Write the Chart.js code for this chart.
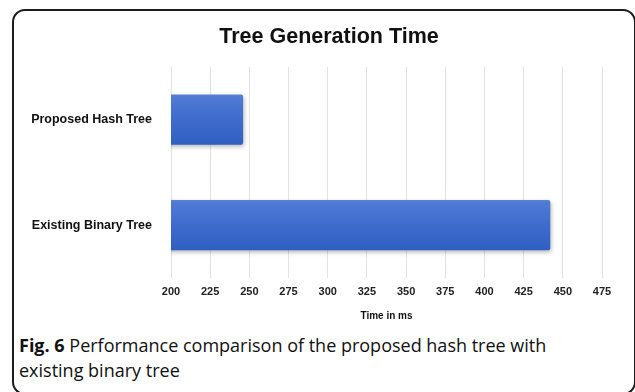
<!DOCTYPE html>
<html>
<head>
<meta charset="utf-8">
<script src="https://cdn.jsdelivr.net/npm/chart.js@4/dist/chart.umd.min.js"></script>
<style>
  html, body { margin: 0; padding: 0; background: #fff; }
  body { width: 635px; height: 392px; position: relative; overflow: hidden; }
  .frame {
    position: absolute; left: 12px; top: 9px; width: 620px; height: 382px;
    border: 2px solid #1c1c1c; border-radius: 13px; box-sizing: content-box;
  }
  .chart-box { position: absolute; left: 0; top: 0; width: 635px; height: 330px; }
  .caption {
    position: absolute; left: 19px; top: 333px; width: 572px;
    font-family: "Open Sans", sans-serif; font-size: 18px; line-height: 25px; color: #111;
  }
  .caption b { font-weight: 700; }
</style>
</head>
<body>
<div class="frame"></div>
<div class="chart-box"><canvas id="c" width="635" height="330"></canvas></div>
<div class="caption"><b>Fig. 6</b> Performance comparison of the proposed hash tree with existing binary tree</div>
<script>
const categories = ['Proposed Hash Tree', 'Existing Binary Tree'];
const timeMs = [246, 442];
const xTicks = [200, 225, 250, 275, 300, 325, 350, 375, 400, 425, 450, 475];

const PLOT_LEFT = 171;
const PLOT_RIGHT = 602;
const TITLE_LEFT = 56;

// vertical blue gradient for each bar, spanning that bar's own thickness
function barFill(ctx) {
  const chart = ctx.chart;
  const y = chart.scales.y;
  if (!y || !chart.chartArea) return '#3f6bcc';
  const cy = y.getPixelForValue(ctx.dataIndex);
  const half = 26;
  const g = chart.ctx.createLinearGradient(0, cy - half, 0, cy + half);
  g.addColorStop(0, '#5a84da');
  g.addColorStop(0.08, '#4e7ad4');
  g.addColorStop(0.5, '#3f6ccc');
  g.addColorStop(1, '#2f5ec2');
  return g;
}

const barShadow = {
  id: 'barShadow',
  beforeDatasetDraw(chart) {
    const c = chart.ctx;
    c.save();
    c.shadowColor = 'rgba(0,0,0,0.28)';
    c.shadowBlur = 4;
    c.shadowOffsetX = 1;
    c.shadowOffsetY = 2;
  },
  afterDatasetDraw(chart) {
    chart.ctx.restore();
  }
};

// centre the title over the span from the label column to the plot's right edge
const titleSpan = {
  id: 'titleSpan',
  afterLayout(chart) {
    if (chart.titleBlock) {
      chart.titleBlock.left = TITLE_LEFT;
      chart.titleBlock.right = PLOT_RIGHT;
    }
  }
};

new Chart(document.getElementById('c'), {
  type: 'bar',
  data: {
    labels: categories,
    datasets: [{
      label: 'Time in ms',
      data: timeMs,
      backgroundColor: barFill,
      borderWidth: 0,
      borderRadius: 2,
      borderSkipped: false,
      categoryPercentage: 1,
      barPercentage: 0.477
    }]
  },
  plugins: [barShadow, titleSpan],
  options: {
    indexAxis: 'y',
    responsive: false,
    animation: false,
    layout: { padding: { left: 0, right: 635 - PLOT_RIGHT, top: 0, bottom: 8 } },
    plugins: {
      legend: { display: false },
      tooltip: { enabled: false },
      title: {
        display: true,
        text: 'Tree Generation Time',
        color: '#111',
        font: { family: 'Liberation Sans', size: 21.5, weight: 'bold' },
        padding: { top: 24, bottom: 17 }
      }
    },
    scales: {
      x: {
        type: 'linear',
        min: 200,
        max: 475,
        afterBuildTicks(scale) { scale.ticks = xTicks.map(v => ({ value: v })); },
        grid: { color: '#e2e2e2', lineWidth: 1, drawTicks: false },
        border: { display: false },
        ticks: {
          color: '#222',
          padding: 8,
          font: { family: 'Liberation Sans', size: 11, weight: 'bold' }
        },
        title: {
          display: true,
          text: 'Time in ms',
          color: '#111',
          padding: { top: 3, bottom: 0 },
          font: { family: 'Liberation Sans', size: 10, weight: 'bold' }
        }
      },
      y: {
        afterFit(scale) { scale.width = PLOT_LEFT; },
        grid: { display: false },
        border: { display: false },
        ticks: {
          color: '#111',
          padding: 11,
          font: { family: 'Liberation Sans', size: 12.5, weight: 'bold' }
        }
      }
    }
  }
});
</script>
</body>
</html>
